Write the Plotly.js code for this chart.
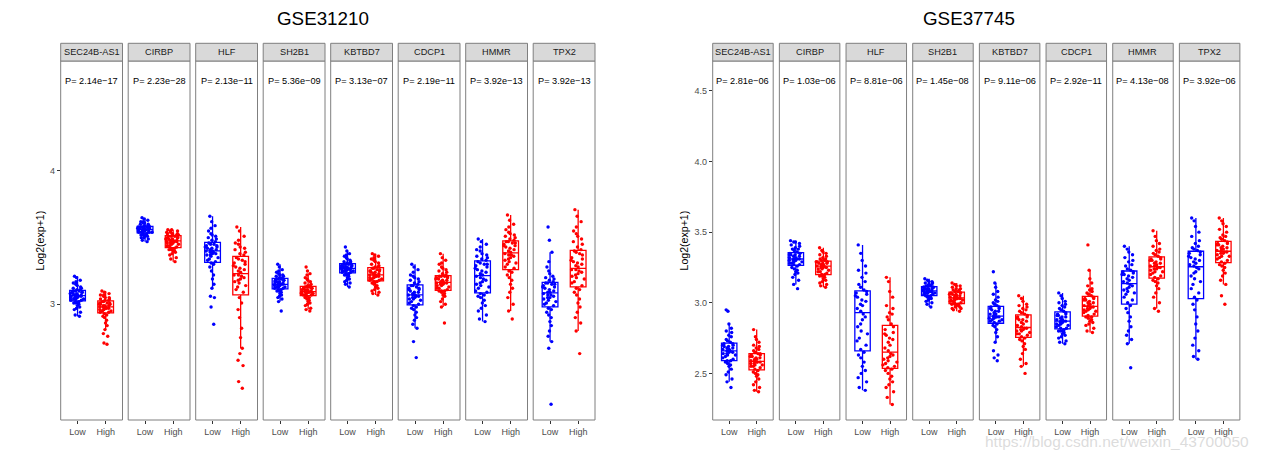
<!DOCTYPE html>
<html>
<head>
<meta charset="utf-8">
<script src="https://cdn.plot.ly/plotly-3.0.1.min.js"></script>
<style>html,body{margin:0;padding:0;background:#fff;}#chart{width:1262px;height:454px;}</style>
</head>
<body>
<div id="chart"></div>
<script>
// ---------------- DATA ----------------
const genes = ['SEC24B-AS1','CIRBP','HLF','SH2B1','KBTBD7','CDCP1','HMMR','TPX2'];
const groups = ['Low','High'];
const datasets = ['GSE31210','GSE37745'];
const pGSE31210 = ['2.14e\u221217','2.23e\u221228','2.13e\u221211','5.36e\u221209','3.13e\u221207','2.19e\u221211','3.92e\u221213','3.92e\u221213'];
const pGSE37745 = ['2.81e\u221206','1.03e\u221206','8.81e\u221206','1.45e\u221208','9.11e\u221206','2.92e\u221211','4.13e\u221208','3.92e\u221206'];
const ticksGSE31210 = [3, 4];
const tickLabelsGSE31210 = ['3', '4'];
const ticksGSE37745 = [2.5, 3.0, 3.5, 4.0, 4.5];
const tickLabelsGSE37745 = ['2.5', '3.0', '3.5', '4.0', '4.5'];

// GSE31210, one list per gene (order as genes)
const gse31210Low = [
 [2.91,2.92,2.94,2.96,2.97,2.98,2.99,3.00,3.01,3.01,3.02,3.02,3.03,3.03,3.04,3.04,3.04,3.05,3.05,3.05,3.06,3.06,3.06,3.06,3.07,3.07,3.07,3.08,3.08,3.08,3.09,3.09,3.09,3.10,3.10,3.10,3.11,3.11,3.12,3.12,3.13,3.14,3.15,3.16,3.17,3.18,3.20,3.21],
 [3.47,3.48,3.49,3.50,3.50,3.51,3.51,3.52,3.52,3.52,3.53,3.53,3.54,3.54,3.54,3.54,3.55,3.55,3.55,3.55,3.55,3.56,3.56,3.56,3.56,3.56,3.57,3.57,3.57,3.57,3.57,3.58,3.58,3.58,3.58,3.58,3.59,3.59,3.59,3.60,3.60,3.61,3.61,3.62,3.62,3.63,3.64,3.65],
 [2.85,2.98,3.05,3.06,3.12,3.15,3.19,3.22,3.25,3.28,3.30,3.31,3.32,3.33,3.34,3.35,3.36,3.37,3.37,3.38,3.38,3.39,3.39,3.40,3.40,3.41,3.41,3.42,3.42,3.43,3.43,3.44,3.44,3.45,3.45,3.46,3.47,3.48,3.49,3.50,3.51,3.52,3.53,3.55,3.57,3.59,3.62,3.66],
 [2.95,3.02,3.04,3.05,3.06,3.07,3.08,3.09,3.10,3.10,3.11,3.11,3.12,3.12,3.13,3.13,3.13,3.14,3.14,3.14,3.15,3.15,3.15,3.15,3.15,3.16,3.16,3.17,3.17,3.17,3.18,3.18,3.18,3.19,3.19,3.19,3.20,3.20,3.21,3.21,3.22,3.22,3.23,3.24,3.25,3.26,3.28,3.30],
 [3.13,3.15,3.16,3.17,3.18,3.19,3.20,3.21,3.22,3.22,3.23,3.23,3.24,3.24,3.25,3.25,3.25,3.26,3.26,3.26,3.26,3.27,3.27,3.27,3.27,3.28,3.28,3.28,3.28,3.29,3.29,3.29,3.30,3.30,3.30,3.30,3.31,3.31,3.32,3.32,3.33,3.34,3.35,3.36,3.37,3.38,3.40,3.43],
 [2.60,2.72,2.82,2.85,2.88,2.90,2.92,2.94,2.96,2.97,2.98,2.99,3.00,3.01,3.02,3.03,3.04,3.04,3.05,3.05,3.06,3.06,3.07,3.07,3.07,3.08,3.09,3.09,3.10,3.11,3.11,3.12,3.12,3.13,3.14,3.14,3.15,3.16,3.17,3.18,3.19,3.20,3.21,3.22,3.24,3.26,3.28,3.30],
 [2.87,2.89,2.92,2.95,2.97,2.99,3.01,3.03,3.05,3.06,3.07,3.08,3.09,3.10,3.12,3.13,3.14,3.15,3.16,3.17,3.18,3.19,3.20,3.21,3.22,3.23,3.24,3.25,3.26,3.27,3.28,3.29,3.30,3.30,3.31,3.32,3.33,3.34,3.35,3.36,3.37,3.38,3.40,3.41,3.43,3.45,3.47,3.49],
 [2.25,2.67,2.72,2.76,2.80,2.84,2.87,2.90,2.92,2.94,2.96,2.97,2.99,3.00,3.01,3.02,3.03,3.04,3.05,3.05,3.06,3.07,3.07,3.08,3.09,3.09,3.10,3.11,3.12,3.13,3.13,3.14,3.15,3.15,3.16,3.16,3.17,3.18,3.19,3.20,3.21,3.23,3.25,3.28,3.32,3.39,3.48,3.58]
];
const gse31210High = [
 [2.70,2.71,2.76,2.78,2.81,2.84,2.86,2.88,2.90,2.91,2.92,2.93,2.94,2.94,2.95,2.95,2.96,2.96,2.96,2.97,2.97,2.97,2.98,2.98,2.98,2.99,2.99,2.99,3.00,3.00,3.00,3.01,3.01,3.01,3.02,3.02,3.03,3.03,3.04,3.04,3.05,3.05,3.06,3.07,3.07,3.08,3.09,3.10],
 [3.32,3.34,3.35,3.37,3.38,3.39,3.40,3.40,3.41,3.41,3.42,3.42,3.43,3.44,3.44,3.45,3.45,3.46,3.46,3.46,3.47,3.47,3.47,3.47,3.48,3.48,3.48,3.49,3.49,3.49,3.50,3.50,3.50,3.51,3.51,3.51,3.52,3.52,3.52,3.53,3.53,3.53,3.54,3.54,3.55,3.55,3.56,3.56],
 [2.37,2.42,2.54,2.58,2.63,2.67,2.75,2.82,2.90,2.96,3.01,3.05,3.09,3.11,3.13,3.14,3.16,3.17,3.18,3.19,3.20,3.21,3.22,3.22,3.24,3.25,3.26,3.27,3.28,3.29,3.30,3.31,3.32,3.33,3.34,3.35,3.37,3.38,3.39,3.41,3.42,3.43,3.45,3.46,3.48,3.51,3.55,3.58],
 [2.95,2.96,2.97,2.99,3.00,3.01,3.02,3.03,3.04,3.05,3.05,3.06,3.07,3.07,3.07,3.08,3.08,3.08,3.09,3.09,3.09,3.09,3.09,3.09,3.10,3.10,3.10,3.11,3.11,3.11,3.12,3.12,3.12,3.13,3.13,3.13,3.14,3.14,3.15,3.16,3.17,3.18,3.19,3.20,3.22,3.23,3.25,3.28],
 [3.07,3.08,3.09,3.10,3.11,3.12,3.13,3.14,3.15,3.16,3.17,3.17,3.18,3.18,3.19,3.19,3.20,3.20,3.20,3.21,3.21,3.21,3.22,3.22,3.22,3.23,3.23,3.24,3.24,3.25,3.25,3.25,3.26,3.26,3.27,3.27,3.28,3.28,3.29,3.30,3.31,3.32,3.33,3.34,3.35,3.36,3.37,3.38],
 [2.86,2.98,3.00,3.02,3.04,3.06,3.07,3.08,3.09,3.10,3.10,3.10,3.11,3.12,3.12,3.13,3.14,3.14,3.15,3.15,3.16,3.16,3.16,3.16,3.17,3.17,3.18,3.18,3.19,3.19,3.20,3.20,3.21,3.21,3.21,3.21,3.22,3.23,3.24,3.25,3.26,3.27,3.28,3.30,3.31,3.33,3.35,3.38],
 [2.89,2.95,3.00,3.05,3.09,3.12,3.15,3.18,3.20,3.22,3.24,3.25,3.27,3.28,3.30,3.31,3.32,3.33,3.34,3.35,3.36,3.37,3.37,3.38,3.39,3.40,3.41,3.42,3.43,3.44,3.44,3.45,3.46,3.46,3.47,3.47,3.48,3.49,3.50,3.51,3.52,3.53,3.54,3.56,3.58,3.60,3.63,3.67],
 [2.63,2.80,2.86,2.90,2.94,2.98,3.01,3.04,3.07,3.09,3.11,3.12,3.14,3.16,3.17,3.19,3.20,3.21,3.22,3.23,3.24,3.25,3.26,3.26,3.28,3.29,3.30,3.31,3.32,3.33,3.34,3.35,3.37,3.38,3.39,3.40,3.41,3.43,3.45,3.47,3.49,3.51,3.53,3.55,3.58,3.62,3.66,3.71]
];
// GSE37745
const gse37745Low = [
 [2.40,2.44,2.46,2.49,2.51,2.53,2.55,2.56,2.57,2.58,2.59,2.59,2.60,2.61,2.62,2.63,2.63,2.64,2.64,2.65,2.65,2.66,2.66,2.67,2.67,2.68,2.68,2.69,2.69,2.70,2.70,2.71,2.71,2.72,2.73,2.74,2.76,2.77,2.79,2.80,2.82,2.85,2.94,2.95],
 [3.10,3.13,3.16,3.18,3.20,3.21,3.22,3.23,3.24,3.25,3.26,3.27,3.27,3.28,3.28,3.29,3.29,3.30,3.30,3.30,3.31,3.31,3.31,3.32,3.32,3.33,3.33,3.34,3.34,3.34,3.35,3.35,3.35,3.36,3.37,3.38,3.38,3.39,3.40,3.41,3.42,3.43,3.43,3.44],
 [2.38,2.40,2.44,2.47,2.50,2.52,2.55,2.58,2.61,2.63,2.65,2.67,2.70,2.73,2.75,2.78,2.80,2.83,2.85,2.88,2.90,2.92,2.94,2.96,2.98,2.99,3.01,3.02,3.04,3.05,3.06,3.07,3.08,3.09,3.11,3.13,3.15,3.18,3.21,3.23,3.26,3.30,3.35,3.41],
 [2.97,2.99,3.00,3.01,3.02,3.03,3.03,3.04,3.04,3.05,3.05,3.05,3.06,3.06,3.07,3.07,3.07,3.08,3.08,3.08,3.08,3.08,3.09,3.09,3.09,3.10,3.10,3.10,3.10,3.11,3.11,3.11,3.11,3.12,3.12,3.12,3.13,3.13,3.14,3.14,3.15,3.15,3.16,3.17],
 [2.59,2.61,2.63,2.66,2.72,2.76,2.79,2.81,2.83,2.84,2.85,2.86,2.87,2.87,2.88,2.88,2.89,2.89,2.90,2.90,2.90,2.90,2.91,2.92,2.92,2.93,2.94,2.94,2.95,2.96,2.96,2.97,2.97,2.98,2.99,3.00,3.01,3.02,3.04,3.06,3.08,3.11,3.14,3.22],
 [2.71,2.72,2.73,2.75,2.76,2.77,2.78,2.79,2.80,2.80,2.81,2.82,2.82,2.83,2.84,2.84,2.85,2.85,2.86,2.86,2.87,2.87,2.87,2.88,2.88,2.89,2.90,2.90,2.91,2.91,2.92,2.92,2.93,2.94,2.95,2.96,2.97,2.98,2.99,3.00,3.01,3.03,3.05,3.07],
 [2.54,2.71,2.74,2.77,2.80,2.83,2.87,2.90,2.93,2.96,2.98,3.00,3.02,3.04,3.06,3.07,3.08,3.09,3.10,3.11,3.12,3.13,3.14,3.15,3.16,3.17,3.18,3.19,3.20,3.20,3.21,3.22,3.22,3.23,3.24,3.26,3.27,3.29,3.30,3.32,3.34,3.36,3.38,3.40],
 [2.60,2.62,2.66,2.70,2.75,2.80,2.85,2.90,2.95,2.99,3.02,3.04,3.07,3.10,3.13,3.15,3.17,3.19,3.21,3.22,3.24,3.25,3.26,3.27,3.28,3.29,3.30,3.31,3.32,3.33,3.34,3.35,3.36,3.37,3.38,3.39,3.40,3.42,3.44,3.47,3.50,3.54,3.58,3.60]
];
const gse37745High = [
 [2.37,2.38,2.40,2.42,2.44,2.46,2.48,2.49,2.50,2.51,2.52,2.53,2.54,2.55,2.55,2.56,2.56,2.57,2.57,2.58,2.58,2.58,2.59,2.59,2.60,2.60,2.61,2.61,2.62,2.62,2.63,2.63,2.64,2.64,2.65,2.66,2.67,2.68,2.69,2.70,2.72,2.74,2.76,2.81],
 [3.11,3.12,3.13,3.14,3.15,3.16,3.17,3.18,3.19,3.19,3.20,3.20,3.21,3.22,3.22,3.23,3.24,3.24,3.25,3.25,3.25,3.26,3.26,3.26,3.27,3.27,3.28,3.28,3.28,3.29,3.29,3.29,3.29,3.30,3.30,3.31,3.31,3.32,3.33,3.34,3.35,3.36,3.37,3.39],
 [2.28,2.33,2.37,2.40,2.42,2.44,2.46,2.48,2.50,2.52,2.53,2.54,2.55,2.56,2.57,2.58,2.59,2.60,2.61,2.62,2.63,2.64,2.66,2.68,2.70,2.72,2.74,2.75,2.77,2.78,2.79,2.81,2.83,2.85,2.88,2.90,2.92,2.93,2.96,2.98,3.04,3.08,3.15,3.18],
 [2.94,2.95,2.96,2.96,2.97,2.97,2.98,2.98,2.99,2.99,2.99,3.00,3.00,3.01,3.01,3.02,3.02,3.02,3.03,3.03,3.03,3.03,3.04,3.04,3.05,3.05,3.05,3.06,3.06,3.06,3.07,3.07,3.07,3.08,3.08,3.09,3.09,3.10,3.10,3.11,3.12,3.12,3.13,3.14],
 [2.50,2.55,2.57,2.60,2.64,2.67,2.69,2.71,2.73,2.74,2.75,2.76,2.77,2.78,2.78,2.79,2.80,2.80,2.81,2.81,2.82,2.82,2.83,2.84,2.85,2.86,2.87,2.88,2.88,2.89,2.90,2.90,2.91,2.92,2.93,2.94,2.95,2.96,2.97,2.98,2.99,3.01,3.03,3.05],
 [2.79,2.80,2.82,2.84,2.85,2.86,2.87,2.88,2.89,2.90,2.90,2.91,2.92,2.93,2.94,2.94,2.95,2.95,2.96,2.96,2.97,2.97,2.98,2.98,2.99,3.00,3.00,3.01,3.02,3.02,3.03,3.03,3.04,3.05,3.06,3.07,3.08,3.09,3.10,3.12,3.14,3.17,3.23,3.41],
 [2.94,2.96,3.00,3.04,3.07,3.10,3.12,3.14,3.15,3.16,3.17,3.18,3.19,3.20,3.21,3.22,3.22,3.23,3.24,3.24,3.25,3.25,3.26,3.26,3.27,3.28,3.28,3.29,3.30,3.30,3.31,3.31,3.32,3.33,3.34,3.35,3.36,3.37,3.38,3.40,3.42,3.44,3.47,3.51],
 [2.99,3.05,3.13,3.16,3.19,3.21,3.23,3.25,3.26,3.27,3.28,3.29,3.30,3.31,3.32,3.33,3.33,3.34,3.35,3.35,3.36,3.36,3.37,3.37,3.38,3.39,3.39,3.40,3.41,3.41,3.42,3.42,3.43,3.44,3.45,3.46,3.47,3.48,3.50,3.52,3.54,3.56,3.58,3.60]
];

// ---------------- LAYOUT ----------------
const W = 1262, H = 454;
const FONT = 'Liberation Sans, Arial, Helvetica, sans-serif';
const fx = v => v / W;
const fy = v => 1 - v / H;
const PLOT_TOP = 61, PLOT_BOTTOM = 420, STRIP_TOP = 43.3;
const groupColors = {Low: '#0000FF', High: '#FF0000'};

const panels = [
  {name: datasets[0], low: gse31210Low, high: gse31210High, p: pGSE31210,
   x0: 60.7, step: 67.5, w: 61.8, ya: 'y', yaKey: 'yaxis', range: [2.132, 4.825],
   tickvals: ticksGSE31210, ticktext: tickLabelsGSE31210, titleX: 322.5, ylabX: 40},
  {name: datasets[1], low: gse37745Low, high: gse37745High, p: pGSE37745,
   x0: 712.7, step: 66.67, w: 60.5, ya: 'y2', yaKey: 'yaxis2', range: [2.17, 4.712],
   tickvals: ticksGSE37745, ticktext: tickLabelsGSE37745, titleX: 969, ylabX: 684}
];

const traces = [];
const layout = {
  width: W, height: H,
  margin: {l: 0, r: 0, t: 0, b: 0},
  paper_bgcolor: '#ffffff', plot_bgcolor: 'rgba(0,0,0,0)',
  showlegend: false,
  font: {family: FONT, color: '#000'},
  shapes: [], annotations: []
};

let k = 0;
panels.forEach((pn, pi) => {
  const firstK = k + 1;
  genes.forEach((g, gi) => {
    k++;
    const xs = k === 1 ? 'x' : 'x' + k;
    const xKey = k === 1 ? 'xaxis' : 'xaxis' + k;
    const left = pn.x0 + gi * pn.step;
    layout[xKey] = {
      domain: [fx(left), fx(left + pn.w)],
      anchor: pn.ya, type: 'category', categoryorder: 'array', categoryarray: groups,
      range: [-0.6, 1.6], showgrid: false, zeroline: false, showline: false,
      ticks: 'outside', ticklen: 3, tickwidth: 1, tickcolor: '#333',
      tickfont: {family: FONT, size: 9, color: '#4d4d4d'}, fixedrange: true
    };
    [['Low', pn.low[gi]], ['High', pn.high[gi]]].forEach(([grp, vals]) => {
      traces.push({
        type: 'box', x: vals.map(() => grp), y: vals,
        xaxis: xs, yaxis: pn.ya, name: grp,
        boxpoints: 'all', jitter: 1, pointpos: 0, width: 0.56,
        whiskerwidth: 0, fillcolor: '#ffffff',
        line: {color: groupColors[grp], width: 1.3},
        marker: {color: groupColors[grp], size: 3.4, line: {width: 0}},
        hoverinfo: 'y'
      });
    });
    // facet border
    layout.shapes.push({type: 'rect', xref: xs + ' domain', yref: pn.ya + ' domain',
      x0: 0, x1: 1, y0: 0, y1: 1, line: {color: '#7f7f7f', width: 1}, layer: 'above'});
    // strip
    layout.shapes.push({type: 'rect', xref: xs + ' domain', yref: 'paper',
      x0: 0, x1: 1, y0: fy(PLOT_TOP), y1: fy(STRIP_TOP),
      fillcolor: '#d9d9d9', line: {color: '#7f7f7f', width: 1}, layer: 'above'});
    layout.annotations.push({xref: xs + ' domain', yref: 'paper', x: 0.5, y: fy(52.2),
      text: g, showarrow: false, xanchor: 'center', yanchor: 'middle',
      font: {family: FONT, size: 9.2, color: '#1a1a1a'}});
    layout.annotations.push({xref: xs + ' domain', yref: 'paper', x: 0.5, y: fy(80.7),
      text: 'P= ' + pn.p[gi], showarrow: false, xanchor: 'center', yanchor: 'middle',
      font: {family: FONT, size: 9.2, color: '#000'}});
  });
  layout[pn.yaKey] = {
    domain: [fy(PLOT_BOTTOM), fy(PLOT_TOP)], anchor: firstK === 1 ? 'x' : 'x' + firstK,
    range: pn.range, tickmode: 'array', tickvals: pn.tickvals, ticktext: pn.ticktext,
    showgrid: false, zeroline: false, showline: false,
    ticks: 'outside', ticklen: 3, tickwidth: 1, tickcolor: '#333',
    tickfont: {family: FONT, size: 9, color: '#4d4d4d'}, fixedrange: true
  };
  layout.annotations.push({xref: 'paper', yref: 'paper', x: fx(pn.titleX), y: fy(19),
    text: pn.name, showarrow: false, xanchor: 'center', yanchor: 'middle',
    font: {family: FONT, size: 18.8, color: '#000'}});
  layout.annotations.push({xref: 'paper', yref: 'paper', x: fx(pn.ylabX), y: fy((PLOT_TOP + PLOT_BOTTOM) / 2),
    text: 'Log2(exp+1)', textangle: -90, showarrow: false, xanchor: 'center', yanchor: 'middle',
    font: {family: FONT, size: 10.6, color: '#000'}});
});

// watermark (light, overlaps the bottom-right tick labels as in the source image)
layout.annotations.push({xref: 'paper', yref: 'paper', x: fx(1117), y: fy(441),
  text: 'https://blog.csdn.net/weixin_43700050', showarrow: false,
  xanchor: 'center', yanchor: 'middle',
  font: {family: FONT, size: 15.5, color: 'rgba(190,190,190,0.55)'}});

Plotly.newPlot('chart', traces, layout, {displayModeBar: false, staticPlot: true});
</script>
</body>
</html>
